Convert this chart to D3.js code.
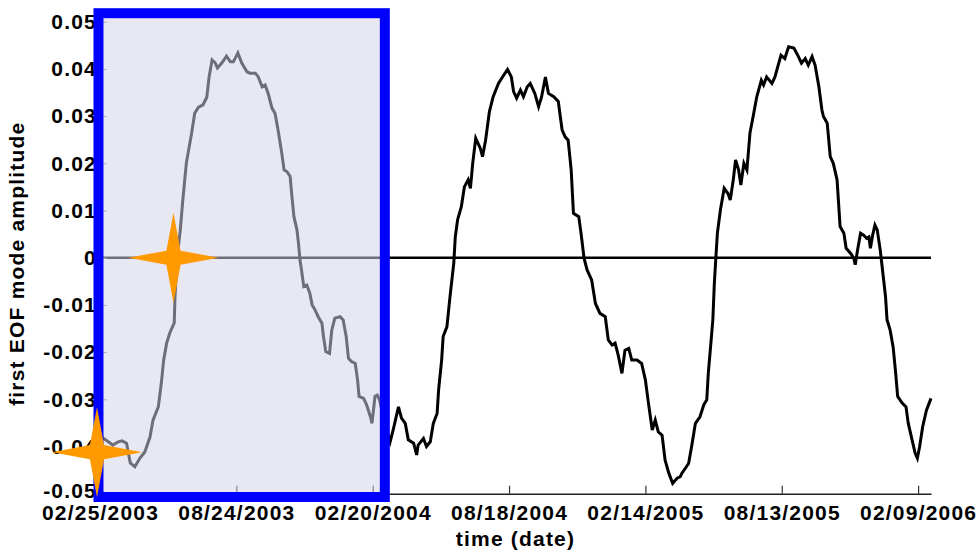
<!DOCTYPE html>
<html>
<head>
<meta charset="utf-8">
<script src="https://cdn.jsdelivr.net/npm/d3@7"></script>
<style>
  html, body { margin: 0; padding: 0; background: #fff; }
  svg { display: block; font-family: "Liberation Sans", Arial, Helvetica, sans-serif; font-weight: bold; }
</style>
</head>
<body>
<svg id="chart" width="979" height="552"></svg>
<script>
// Observation window and axis ticks
const startDate = "2003-02-25";
const endDate = "2006-02-26";
const tickDates = ["2003-02-25", "2003-08-24", "2004-02-20", "2004-08-18", "2005-02-14", "2005-08-13", "2006-02-09"];
const yTicks = [-0.05, -0.04, -0.03, -0.02, -0.01, 0, 0.01, 0.02, 0.03, 0.04, 0.05];

// First EOF mode amplitude: [days since start, amplitude]
const amplitudeByDay = [
  [0,-0.0376],[4,-0.0382],[11,-0.0390],[17,-0.0397],[24,-0.0390],[29,-0.0388],[35,-0.0393],[40,-0.0435],
  [46,-0.0443],[53,-0.0424],[59,-0.0412],[66,-0.0380],[70,-0.0344],[77,-0.0316],[81,-0.0265],[84,-0.0217],
  [88,-0.0181],[92,-0.0160],[98,-0.0138],[99,-0.0083],[101,-0.0026],[103,0.0016],[106,0.0059],[109,0.0116],
  [111,0.0150],[114,0.0201],[117,0.0228],[121,0.0264],[125,0.0306],[130,0.0319],[136,0.0324],[141,0.0340],
  [144,0.0383],[148,0.0419],[152,0.0413],[155,0.0402],[161,0.0413],[167,0.0427],[172,0.0415],[176,0.0415],
  [182,0.0434],[187,0.0413],[191,0.0402],[194,0.0394],[198,0.0391],[205,0.0391],[209,0.0383],[214,0.0362],
  [218,0.0366],[222,0.0348],[227,0.0317],[231,0.0306],[235,0.0271],[240,0.0221],[243,0.0186],[247,0.0182],
  [251,0.0172],[253,0.0136],[256,0.0087],[260,0.0059],[262,0.0031],[264,-0.0005],[266,-0.0026],[269,-0.0061],
  [273,-0.0058],[277,-0.0075],[280,-0.0100],[284,-0.0111],[288,-0.0125],[293,-0.0139],[295,-0.0167],[298,-0.0199],
  [303,-0.0203],[306,-0.0153],[310,-0.0128],[317,-0.0125],[321,-0.0132],[325,-0.0167],[328,-0.0213],[332,-0.0220],
  [337,-0.0224],[340,-0.0259],[342,-0.0294],[348,-0.0298],[352,-0.0312],[357,-0.0337],[359,-0.0351],[361,-0.0323],
  [363,-0.0294],[366,-0.0291],[369,-0.0301],[372,-0.0323],[378,-0.0365],[383,-0.0390],[387,-0.0365],[394,-0.0316],
  [398,-0.0340],[403,-0.0351],[407,-0.0386],[414,-0.0393],[418,-0.0418],[420,-0.0397],[427,-0.0383],[431,-0.0400],
  [436,-0.0390],[440,-0.0351],[445,-0.0330],[447,-0.0280],[451,-0.0217],[453,-0.0167],[458,-0.0146],[462,-0.0083],
  [467,-0.0012],[469,0.0044],[472,0.0080],[477,0.0108],[481,0.0150],[486,0.0165],[489,0.0147],[492,0.0200],
  [496,0.0253],[502,0.0232],[505,0.0214],[509,0.0249],[514,0.0309],[519,0.0341],[526,0.0369],[533,0.0387],
  [538,0.0399],[543,0.0383],[546,0.0352],[550,0.0338],[555,0.0355],[559,0.0341],[564,0.0362],[568,0.0369],
  [574,0.0348],[579,0.0320],[583,0.0341],[588,0.0383],[592,0.0348],[599,0.0341],[605,0.0331],[610,0.0271],
  [614,0.0256],[618,0.0249],[622,0.0186],[625,0.0094],[632,0.0087],[635,0.0052],[639,-0.0001],[643,-0.0026],
  [649,-0.0047],[654,-0.0097],[660,-0.0118],[667,-0.0125],[671,-0.0174],[676,-0.0185],[680,-0.0181],[684,-0.0206],
  [689,-0.0245],[693,-0.0196],[698,-0.0192],[702,-0.0217],[709,-0.0217],[715,-0.0224],[720,-0.0259],[724,-0.0308],
  [729,-0.0365],[733,-0.0344],[737,-0.0369],[742,-0.0376],[746,-0.0429],[751,-0.0457],[756,-0.0478],[762,-0.0467],
  [766,-0.0464],[768,-0.0457],[777,-0.0436],[781,-0.0400],[786,-0.0351],[792,-0.0337],[797,-0.0312],[801,-0.0301],
  [803,-0.0245],[806,-0.0189],[809,-0.0132],[811,-0.0054],[813,0.0000],[815,0.0052],[819,0.0101],[824,0.0147],
  [829,0.0136],[832,0.0122],[836,0.0165],[839,0.0207],[843,0.0186],[846,0.0154],[850,0.0200],[854,0.0186],
  [858,0.0264],[863,0.0306],[867,0.0341],[873,0.0376],[876,0.0366],[880,0.0383],[887,0.0369],[891,0.0383],
  [896,0.0412],[899,0.0429],[904,0.0422],[909,0.0447],[916,0.0444],[922,0.0426],[926,0.0412],[931,0.0422],
  [935,0.0408],[940,0.0426],[944,0.0408],[949,0.0362],[953,0.0313],[955,0.0299],[960,0.0285],[964,0.0214],
  [968,0.0200],[973,0.0165],[977,0.0066],[982,0.0052],[985,0.0020],[991,0.0009],[995,-0.0001],[997,-0.0015],
  [1000,0.0016],[1004,0.0052],[1008,0.0048],[1012,0.0041],[1015,0.0044],[1017,0.0020],[1020,0.0048],[1023,0.0069],
  [1026,0.0059],[1030,0.0016],[1033,-0.0026],[1037,-0.0083],[1039,-0.0132],[1043,-0.0153],[1047,-0.0189],[1050,-0.0238],
  [1053,-0.0294],[1059,-0.0308],[1064,-0.0316],[1067,-0.0351],[1072,-0.0386],[1076,-0.0414],[1079,-0.0425],[1082,-0.0400],
  [1086,-0.0358],[1091,-0.0323],[1097,-0.0298]
];

// Star markers and the highlighted first year
const markerDates = ["2003-02-21", "2003-06-02"];
const markerValues = [-0.0412, 0];
const highlightDates = ["2003-02-23", "2004-03-07"];
const highlightValues = [-0.0507, 0.0518];

const parse = d3.utcParse("%Y-%m-%d");
const t0 = parse(startDate);
const series = amplitudeByDay.map(([d, v]) => ({ date: d3.utcDay.offset(t0, d), value: v }));

const svg = d3.select("#chart");
const x = d3.scaleUtc().domain([t0, parse(endDate)]).range([100, 931]);
const y = d3.scaleLinear().domain([-0.05, 0.05]).range([493.7, 21.7]);

const fontSize = "21px";
const spacing = "1.2px";

// zero reference line
svg.append("line")
  .attr("x1", x.range()[0]).attr("x2", x.range()[1])
  .attr("y1", y(0)).attr("y2", y(0))
  .attr("stroke", "#000").attr("stroke-width", 2.4);

// amplitude curve
svg.append("path")
  .datum(series)
  .attr("fill", "none")
  .attr("stroke", "#000")
  .attr("stroke-width", 3)
  .attr("stroke-linejoin", "miter")
  .attr("d", d3.line().x(d => x(d.date)).y(d => y(d.value)));

// x axis
const xAxis = d3.axisBottom(x)
  .tickValues(tickDates.map(parse))
  .tickFormat(d3.utcFormat("%m/%d/%Y"))
  .tickSizeInner(-8).tickSizeOuter(0).tickPadding(11);
const gx = svg.append("g").attr("transform", `translate(0,${y(-0.05)})`).call(xAxis);
gx.select(".domain").attr("stroke", "#222").attr("stroke-width", 1.6);
gx.selectAll(".tick line").attr("stroke", "#333").attr("stroke-width", 1.2);
gx.selectAll(".tick text")
  .attr("font-size", fontSize).attr("font-family", null)
  .style("letter-spacing", spacing).attr("fill", "#000");

// y axis
const fmtY = v => (Math.abs(v) < 1e-9 ? "0" : v.toFixed(2));
const yAxis = d3.axisLeft(y)
  .tickValues(yTicks)
  .tickFormat(fmtY)
  .tickSizeInner(-7).tickSizeOuter(0).tickPadding(3);
const gy = svg.append("g").attr("transform", `translate(${x.range()[0]},0)`).call(yAxis);
gy.select(".domain").attr("stroke", "#222").attr("stroke-width", 1.6);
gy.selectAll(".tick line").attr("stroke", "#888").attr("stroke-width", 1);
gy.selectAll(".tick text")
  .attr("font-size", fontSize).attr("font-family", null)
  .style("letter-spacing", spacing).attr("fill", "#000");
gy.selectAll(".tick text").filter(d => d === -0.05).attr("dy", "0.2em");

// axis titles
svg.append("text")
  .attr("transform", `translate(24,${(y(0.05) + y(-0.05)) / 2 + 6}) rotate(-90)`)
  .attr("text-anchor", "middle")
  .attr("font-size", fontSize)
  .style("letter-spacing", spacing)
  .text("first EOF mode amplitude");

svg.append("text")
  .attr("x", (x.range()[0] + x.range()[1]) / 2)
  .attr("y", 546)
  .attr("text-anchor", "middle")
  .attr("font-size", fontSize)
  .style("letter-spacing", spacing)
  .text("time (date)");

// highlighted first year
const hx0 = x(parse(highlightDates[0])), hx1 = x(parse(highlightDates[1]));
const hy0 = y(highlightValues[1]), hy1 = y(highlightValues[0]);
svg.append("rect")
  .attr("x", hx0).attr("y", hy0)
  .attr("width", hx1 - hx0).attr("height", hy1 - hy0)
  .attr("fill", "rgb(211,211,231)").attr("fill-opacity", 0.52)
  .attr("stroke", "#0000ff").attr("stroke-width", 10);

// four-point star markers
const starPoints = d3.range(8).map(i => [i * Math.PI / 4, i % 2 === 0 ? 45 : 10]);
const starPath = d3.lineRadial().angle(d => d[0]).radius(d => d[1]).curve(d3.curveLinearClosed)(starPoints);
svg.selectAll(".star")
  .data(markerDates.map((d, i) => ({ date: parse(d), value: markerValues[i] })))
  .join("path")
  .attr("class", "star")
  .attr("transform", d => `translate(${x(d.date)},${y(d.value)})`)
  .attr("d", starPath)
  .attr("fill", "#ff9900");
</script>
</body>
</html>
